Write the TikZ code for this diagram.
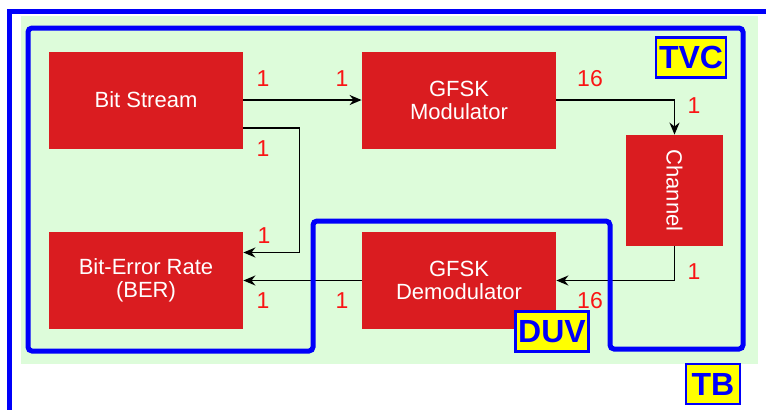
\documentclass[tikz,border=0pt]{standalone}
\usepackage{fontspec}
\setmainfont{Liberation Sans}
\usepackage{tikz}
\usetikzlibrary{arrows.meta}
\definecolor{blockink}{RGB}{218, 28, 32}
\definecolor{portink}{RGB}{250, 20, 20}
\definecolor{benchink}{RGB}{221, 252, 218}
\definecolor{loopink}{RGB}{0, 0, 250}
\definecolor{tagink}{RGB}{255, 255, 0}

\begin{document}
\begin{tikzpicture}[x=0.5pt, y=-0.5pt,
  block/.style={fill=blockink, text=white, inner sep=0pt, align=center,
    minimum width=97pt, minimum height=48.5pt,
    font=\fontsize{11}{11.5}\selectfont},
  port/.style={text=portink, font=\fontsize{11.5}{12}\selectfont},
  wire/.style={line width=0.8pt, -{Stealth[length=6pt, width=5pt]}},
  loop/.style={loopink, line width=2.5pt, rounded corners=2pt},
  tag/.style={fill=tagink, draw=loopink, line width=1.4pt, text=loopink,
    inner xsep=1.5pt, inner ysep=0pt, minimum height=20pt,
    font=\fontsize{16}{16}\selectfont\bfseries}]
  \useasboundingbox (0,0) rectangle (766,409);
  \fill[benchink] (21,16) rectangle (758,364);
  \draw[loop, rounded corners=0pt] (775,11) -- (9,11) -- (9,420);

  \node[block] (bits) at (146,100) {Bit Stream};
  \node[block] (mod) at (459,100) {GFSK\\Modulator};
  \node[block, minimum width=48.5pt, minimum height=55.5pt] (chan) at (674.5,190.5) {};
  \node[rotate=-90, text=white, font=\fontsize{11}{11.5}\selectfont] at (chan.center) {Channel};
  \node[block] (ber) at (146,280.5) {Bit-Error Rate\\(BER)};
  \node[block] (demod) at (459,280.5) {GFSK\\Demodulator};

  \draw[wire] (bits.east) -- (mod.west);
  \draw[wire] ([yshift=-14pt]bits.east) -- ++(28pt,0) |- ([yshift=14pt]ber.east);
  \draw[wire] (mod.east) -| (chan.north);
  \draw[wire] (chan.south) |- (demod.east);
  \draw[wire] (demod.west) -- (ber.east);

  \node[port] at (263,79) {1};
  \node[port] at (342,79) {1};
  \node[port] at (263,149) {1};
  \node[port] at (590,79) {16};
  \node[port] at (694,106) {1};
  \node[port] at (264,236) {1};
  \node[port] at (263,301) {1};
  \node[port] at (342,301) {1};
  \node[port] at (694,272) {1};
  \node[port] at (590,301) {16};

  \draw[loop] (28,28) -- (743,28) -- (743,349) -- (610,349) -- (610,221)
    -- (313,221) -- (313,351) -- (28,351) -- cycle;

  \node[tag] (tvc) at (691,57.5) {TVC};
  \node[tag] (duv) at (552,331.5) {DUV};
  \node[tag, minimum width=27pt] (tb) at (713,384) {TB};
\end{tikzpicture}
\end{document}
